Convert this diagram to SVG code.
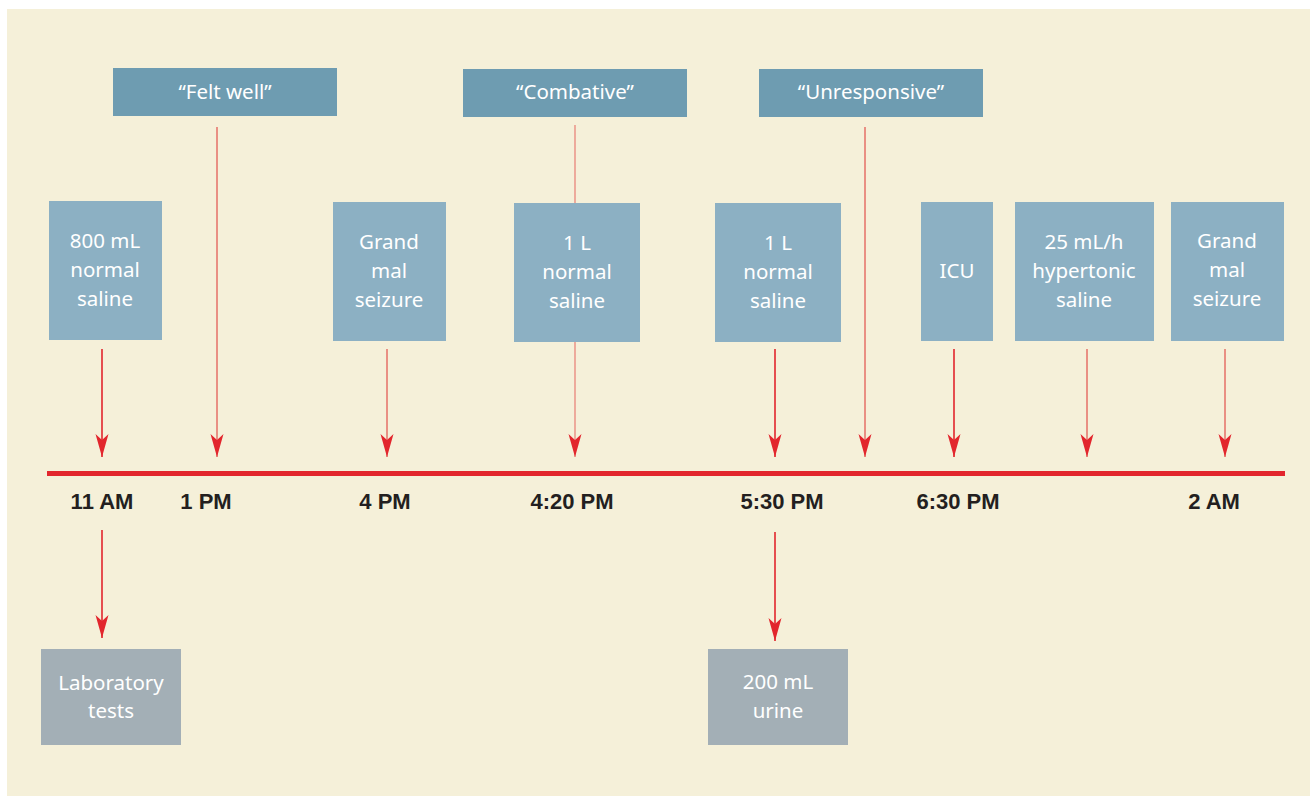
<svg xmlns="http://www.w3.org/2000/svg" width="1310" height="796" viewBox="0 0 1310 796">
<defs>
<style>
.q{fill:#6E9CB1}
.m{fill:#8CB0C3}
.b{fill:#A3AFB6}
.t{font-family:"Noto Sans","Liberation Sans",sans-serif;font-size:20.5px;fill:#FFFFFF;text-anchor:middle}
.tm{font-family:"Liberation Sans",Arial,sans-serif;font-size:22px;font-weight:bold;fill:#231F20;text-anchor:middle}
.lr{stroke:#E2262D;stroke-width:1.6;fill:none}
.ls{stroke:#E8857A;stroke-width:1.8;fill:none}
</style>
<marker id="ah" markerWidth="26" markerHeight="16" refX="24" refY="8" orient="auto" markerUnits="userSpaceOnUse" viewBox="0 0 26 16">
<path d="M24,8 L1,1.5 L7,8 L1,14.5 Z" fill="#E2262D"/>
</marker>
</defs>
<rect x="7" y="9" width="1303" height="787" fill="#F5F0D9"/>
<rect x="47" y="471" width="1238" height="5" fill="#E2262D"/>

<g id="connectors">
<line class="lr" x1="102" y1="349" x2="102" y2="457" marker-end="url(#ah)"/>
<line class="ls" x1="217" y1="127" x2="217" y2="457" marker-end="url(#ah)"/>
<line class="ls" x1="387" y1="349" x2="387" y2="457" marker-end="url(#ah)"/>
<line class="ls" x1="575" y1="125" x2="575" y2="203" style="stroke-width:1.3"/>
<line class="ls" x1="575" y1="342" x2="575" y2="457" style="stroke-width:1.3" marker-end="url(#ah)"/>
<line class="lr" x1="775" y1="349" x2="775" y2="457" marker-end="url(#ah)"/>
<line class="ls" x1="865" y1="127" x2="865" y2="457" marker-end="url(#ah)"/>
<line class="lr" x1="954" y1="349" x2="954" y2="457" marker-end="url(#ah)"/>
<line class="ls" x1="1087" y1="349" x2="1087" y2="457" marker-end="url(#ah)"/>
<line class="ls" x1="1225" y1="349" x2="1225" y2="457" marker-end="url(#ah)"/>
<line class="lr" x1="102" y1="530" x2="102" y2="638" marker-end="url(#ah)"/>
<line class="lr" x1="775" y1="532" x2="775" y2="641" marker-end="url(#ah)"/>
</g>

<g id="felt-well"><rect class="q" x="113" y="68" width="224" height="48"/><text class="t" x="225" y="99">“Felt well”</text></g>
<g id="combative"><rect class="q" x="463" y="69" width="224" height="48"/><text class="t" x="575" y="99">“Combative”</text></g>
<g id="unresponsive"><rect class="q" x="759" y="69" width="224" height="48"/><text class="t" x="871" y="99">“Unresponsive”</text></g>

<g id="saline-800"><rect class="m" x="49" y="201" width="113" height="139"/><text class="t" x="105" y="248">800 mL</text><text class="t" x="105" y="277">normal</text><text class="t" x="105" y="306">saline</text></g>
<g id="seizure-1"><rect class="m" x="333" y="202" width="113" height="139"/><text class="t" x="389" y="249">Grand</text><text class="t" x="389" y="278">mal</text><text class="t" x="389" y="307">seizure</text></g>
<g id="saline-1L-a"><rect class="m" x="514" y="203" width="126" height="139"/><text class="t" x="577" y="250">1 L</text><text class="t" x="577" y="279">normal</text><text class="t" x="577" y="308">saline</text></g>
<g id="saline-1L-b"><rect class="m" x="715" y="203" width="126" height="139"/><text class="t" x="778" y="250">1 L</text><text class="t" x="778" y="279">normal</text><text class="t" x="778" y="308">saline</text></g>
<g id="icu"><rect class="m" x="921" y="202" width="72" height="139"/><text class="t" x="957" y="278">ICU</text></g>
<g id="hypertonic"><rect class="m" x="1015" y="202" width="139" height="139"/><text class="t" x="1084" y="249">25 mL/h</text><text class="t" x="1084" y="278">hypertonic</text><text class="t" x="1084" y="307">saline</text></g>
<g id="seizure-2"><rect class="m" x="1171" y="202" width="113" height="139"/><text class="t" x="1227" y="248">Grand</text><text class="t" x="1227" y="277">mal</text><text class="t" x="1227" y="306">seizure</text></g>

<g id="lab-tests"><rect class="b" x="41" y="649" width="140" height="96"/><text class="t" x="111" y="690">Laboratory</text><text class="t" x="111" y="718">tests</text></g>
<g id="urine"><rect class="b" x="708" y="649" width="140" height="96"/><text class="t" x="778" y="689">200 mL</text><text class="t" x="778" y="718">urine</text></g>

<g id="times">
<text class="tm" x="102" y="509">11 AM</text>
<text class="tm" x="206" y="509">1 PM</text>
<text class="tm" x="385" y="509">4 PM</text>
<text class="tm" x="572" y="509">4:20 PM</text>
<text class="tm" x="782" y="509">5:30 PM</text>
<text class="tm" x="958" y="509">6:30 PM</text>
<text class="tm" x="1214" y="509">2 AM</text>
</g>
</svg>
